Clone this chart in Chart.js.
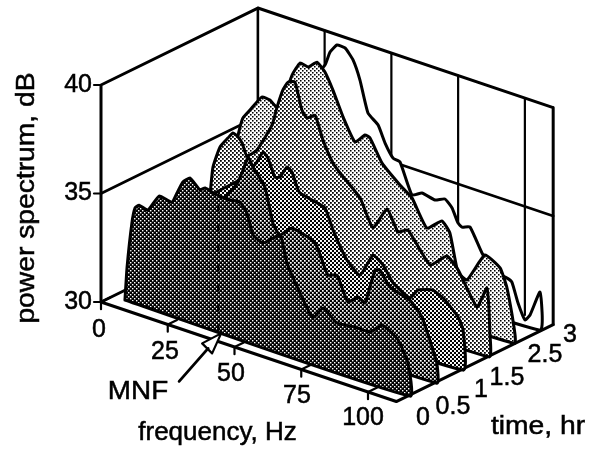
<!DOCTYPE html>
<html><head><meta charset="utf-8">
<style>html,body{margin:0;padding:0;background:#fff}canvas{display:block}</style>
<script src="https://cdn.jsdelivr.net/npm/chart.js@4/dist/chart.umd.js"></script>
</head><body><canvas id="c" width="595" height="450"></canvas>
<script>
const timeLabels=['0','0.5','1','1.5','2.5','3'];
const freqTicks=[0,25,50,75,100];
const dbTicks=[30,35,40];
const mnfHz=39.3;
const f0=[4.4,5.2,7.0,8.2,9.7,13.0,17.2,22.0,23.9,26.1,28.8,32.5,34.4,38.9,43.7,47.5,50.1,52.4,56.1,62.5,65.1,70,74.8,78.6,83.8,90.6,96.2,100.7,106.7,110.4,111.2];
const d0=[30,31.55,33.65,34.40,34.59,34.50,35.32,35.24,35.74,36.34,36.63,36.24,36.41,36.27,36.24,36.30,35.90,34.99,34.77,35.40,34.22,33.04,32.09,32.71,32.23,32.33,32.33,32.84,32.40,31.49,30];
const f1=[4.2,5.7,9.5,17,24.5,30.8,34.6,36.8,38.7,40.6,42.4,46.9,49.9,52.5,57,65.7,70.5,73.9,78,81.8,84.4,88.1,90,93.7,101.2,105.7,109.8,111.3,111.3];
const d1=[30,31.99,33.07,34.07,34.61,35.10,35.72,36.18,36.81,37.49,37.11,36.37,34.83,34.39,34.90,34.57,33.29,33.43,32.36,32.75,32.58,34.25,34.33,33.70,33.41,32.82,31.47,30.93,30];
const f2=[4.4,5.2,8.9,14.5,18.3,26.1,31.4,34,36.3,38.1,40.7,42.6,45.2,47.1,49,50.1,54.6,59.5,62.5,67.7,72.6,77.5,81.2,85,91.3,94.3,99.9,104.4,109.3,111.2,111.2];
const d2=[30,31.83,32.90,33.60,34.31,35.14,35.91,36.39,36.94,36.74,35.97,36.05,36.62,36.47,35.86,35.63,35.49,35.32,34.43,33.27,32.78,33.90,33.60,32.93,32.50,32.99,33.22,32.95,32.37,31.85,30];
const f3=[4.4,5.4,6.5,7.6,10.2,13.2,15.1,17,18.5,20.3,24.1,29.7,31.6,33.8,35.7,38.3,40.9,42.8,45.8,48.8,52.5,55.2,62.7,67.5,72.8,76.9,80.6,88.9,95.2,99.4,106.5,110.2,111.3,111];
const d3=[30,31.47,33.13,34.46,35.49,36.03,36.34,36.24,36.02,35.50,35.93,37.31,38.22,39.10,39.54,39.65,38.47,38.18,38.44,37.41,36.51,36.16,35.32,34.14,35.23,34.34,34.59,33.32,34.00,33.53,32.12,33.14,31.12,30];
const f4=[4.4,5.2,6.3,7.8,8.9,11.5,16,19,21.6,24.6,27.3,30.3,33.3,36.6,39.6,42.6,46.4,50.9,54.6,56.5,61,67.7,72.2,77.8,83.4,86.4,89.4,92.8,99.5,105.2,107.8,110,110.5];
const d4=[30,33.17,34.82,35.71,36.18,36.65,37.44,37.42,37.21,37.88,38.92,39.60,39.54,39.90,39.57,38.86,37.78,36.81,37.29,37.23,36.26,35.53,35.12,33.96,34.52,34.09,32.42,32.19,33.62,33.26,32.44,31.06,30];
const f5=[4.4,6.1,9.1,14.7,20.3,26,29.7,31.6,34.2,37.2,40.2,42.8,45.8,49.6,52.2,55.2,57.8,62.3,66,70.9,74.6,77.3,79.5,81,84,88.5,93.4,97.9,99.7,102,104.6,106.5,110.2,110.2];
const d5=[30,32.60,34.57,36.65,38.03,38.27,38.88,39.56,39.99,39.98,39.55,38.73,37.34,36.94,36.22,35.65,35.58,34.24,34.49,34.37,34.57,34.27,33.67,33.54,33.67,32.66,31.99,31.89,31.78,30.91,30.24,30.55,31.76,30];

const freqs=[f0,f1,f2,f3,f4,f5], dbs=[d0,d1,d2,d3,d4,d5];
const whiteShare=[0.25,0.36,0.48,0.6,0.7,1];
const FMAX=110.6, TMAX=5.92, T0=0.46;
function P(f,t,db){return {x:101+2.67*f+26.5*t, y:302+0.9*f-13*t-21.7*(db-30)};}
function pat(w){
  if(w>=1)return '#fff';
  const c=document.createElement('canvas');c.width=c.height=4;const g=c.getContext('2d');
  const dark=w<=0.5;
  g.fillStyle=dark?'#000':'#fff';g.fillRect(0,0,4,4);
  const s=Math.sqrt(8*(dark?w:1-w));
  g.fillStyle=dark?'#fff':'#000';g.fillRect(0,0,s,s);g.fillRect(2,2,s,s);
  return g.createPattern(c,'repeat');
}
const lineDs=(pts,w,extra)=>Object.assign({data:pts,showLine:true,borderColor:'#000',borderWidth:w,pointRadius:0,fill:false,tension:0,borderCapStyle:'round',borderJoinStyle:'round'},extra||{});
const ds=[];
const tip=P(mnfHz,T0,30); tip.x+=3; tip.y+=2;
ds.push(lineDs([{x:tip.x-13,y:tip.y+15},{x:tip.x-42,y:tip.y+48}],2.8));
ds.push(lineDs([tip,{x:tip.x-19,y:tip.y+10},{x:tip.x-9,y:tip.y+20},tip],2.2,{fill:'shape',backgroundColor:'#fff'}));
ds.push(lineDs([P(mnfHz,T0,30),P(mnfHz,T0,35.8)],2,{borderDash:[7,13],borderCapStyle:'butt'}));
freqTicks.forEach(f=>{ds.push(lineDs([P(f,0.35,30),P(f,0,30),P(f,0,29.67)],2.2));});
for(let i=0;i<6;i++){
  const pts=freqs[i].map((f,k)=>P(f,i+T0,dbs[i][k]));
  pts.push(pts[0]);
  ds.push(lineDs(pts,3,{fill:'shape',backgroundColor:pat(whiteShare[i]),tension:0.15}));
}
ds.push(lineDs([P(0,TMAX,30),P(0,0,30),P(FMAX,0,30),P(FMAX,TMAX,30)],3));
dbTicks.forEach(d=>{const a=P(0,0,d);ds.push(lineDs([{x:a.x-7,y:a.y},a],2.2));});
ds.push(lineDs([P(0,0,30),P(0,0,40),P(0,TMAX,40),P(FMAX,TMAX,40),P(FMAX,TMAX,30)],3));
ds.push(lineDs([P(0,0,35),P(0,TMAX,35),P(FMAX,TMAX,35)],2.6));
ds.push(lineDs([P(0,TMAX,40),P(0,TMAX,30)],2.6));
freqTicks.slice(1).forEach(f=>{ds.push(lineDs([P(f,TMAX,40),P(f,TMAX,30)],2.2));});

const labels={id:'labels',afterDraw(ch){
  const g=ch.ctx;const X=ch.scales.x,Y=ch.scales.y;
  const T=(s,x,y,size,align,rot,sx)=>{g.save();g.translate(X.getPixelForValue(x),Y.getPixelForValue(y));if(rot)g.rotate(rot);if(sx)g.scale(sx,1);g.font=size+'px "Liberation Sans"';g.fillStyle='#000';g.strokeStyle='#000';g.lineWidth=0.5;g.textAlign=align||'center';g.textBaseline='middle';g.fillText(s,0,0);g.strokeText(s,0,0);g.restore();};
  dbTicks.forEach(d=>{const p=P(0,0,d);T(String(d),p.x-9,p.y,25,'right');});
  freqTicks.forEach(f=>{const p=P(f,0,30);T(String(f),p.x-2-f*0.03,p.y+28-f*0.015,25);});
  const tp=[[423,418],[453,407],[481,390],[507,378],[545,355],[570,335]];
  timeLabels.forEach((s,i)=>T(s,tp[i][0],tp[i][1],25));
  T('power spectrum, dB',27,198,25,'center',-Math.PI/2,1.13);
  T('frequency, Hz',217.5,433,25,'center',0,1.04);
  T('time, hr',538,427,25,'center',0,1.13);
  T('MNF',138,392,26,'center',0,1.07);
}};
new Chart(document.getElementById('c'),{type:'scatter',data:{datasets:ds},plugins:[labels],options:{
  responsive:false,animation:false,layout:{padding:0},
  plugins:{legend:{display:false},tooltip:{enabled:false}},
  scales:{x:{type:'linear',min:0,max:595,display:false},y:{type:'linear',min:0,max:450,reverse:true,display:false}}
}});
</script></body></html>
